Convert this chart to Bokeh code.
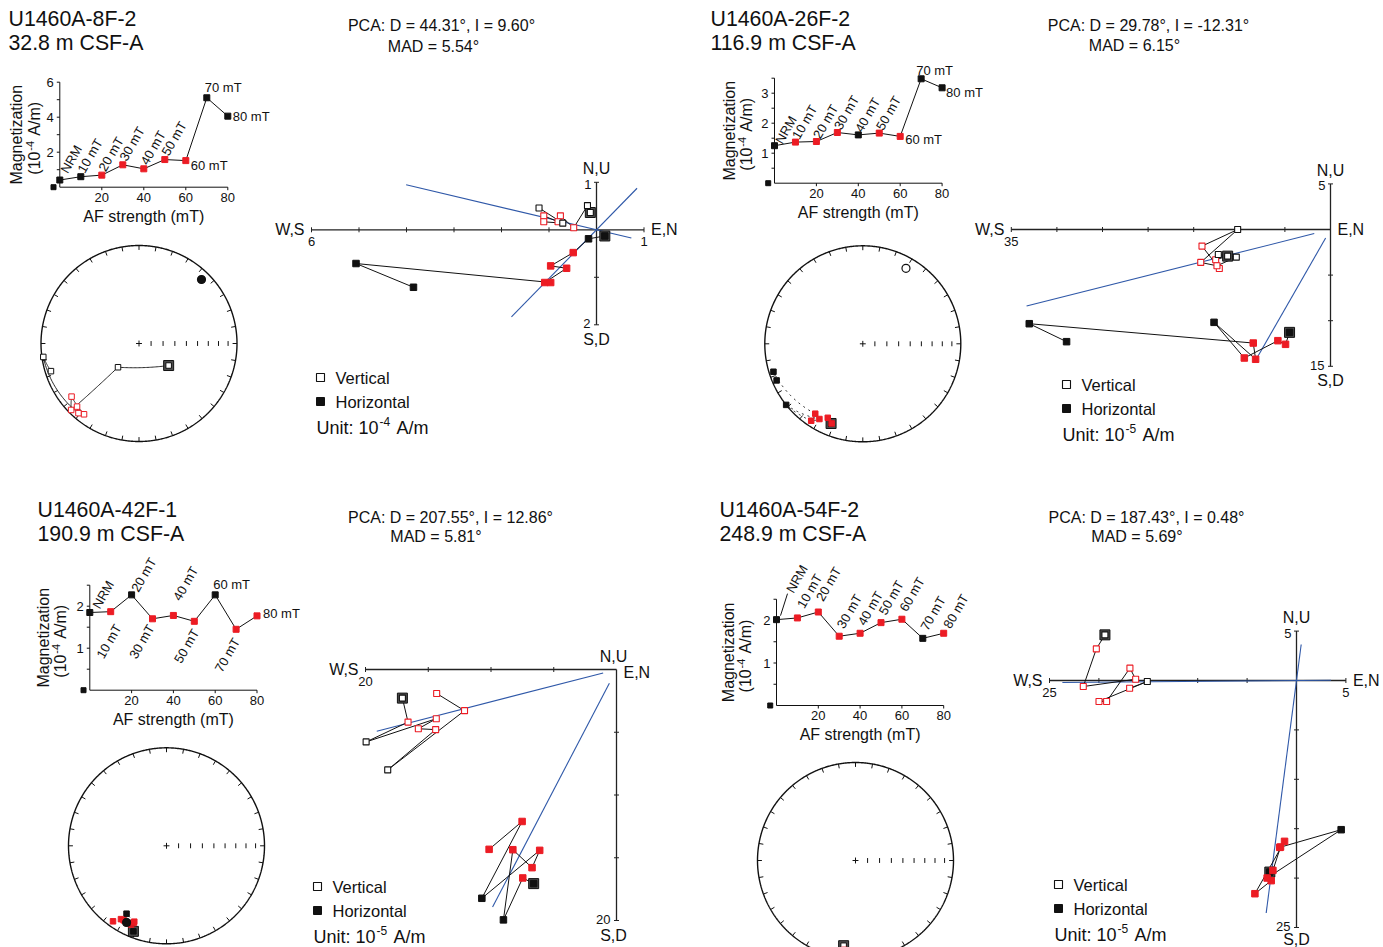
import numpy as np
from bokeh.plotting import figure
from bokeh.models import Range1d
from bokeh.core.properties import value
from bokeh.embed import file_html
from bokeh.resources import INLINE

W, H = 1383, 947
FONT = "Liberation Sans"
INK = "#111111"
RED = "#ec1c24"
BLUE = "#2f58a8"

# ---------------------------------------------------------------- data
steps = ["NRM", "10 mT", "20 mT", "30 mT", "40 mT", "50 mT", "60 mT", "70 mT", "80 mT"]
af_mt = [0, 10, 20, 30, 40, 50, 60, 70, 80]
af_corner_mark = -3.0  # small square drawn just left of each intensity plot origin

# U1460A-8F-2 (vector components in 1e-4 A/m)
name_8f = ["U1460A-8F-2", "32.8 m CSF-A"]
intensity_8f = [0.41, 0.60, 0.69, 1.28, 1.05, 1.58, 1.52, 5.11, 4.06]
east_8f = [0.175, -0.168, -0.49, -0.965, -0.629, -1.09, -0.965, -5.063, -3.853]
north_8f = [-0.13, -0.19, -0.48, -0.76, -0.81, -1.11, -1.11, -0.71, -1.21]
up_8f = [0.364, 0.51, 0.042, 0.294, 0.17, 0.294, 0.168, 0.14, 0.46]
in_fit_8f = [0, 0, 1, 1, 1, 1, 1, 0, 0]
pca_8f = [44.31, 9.60, 5.54]
pca_span_8f = [[-2.6, 1.24], [-5.68, 1.04]]
unit_exp_8f = "-4"

# U1460A-26F-2 (1e-5 A/m)
name_26f = ["U1460A-26F-2", "116.9 m CSF-A"]
intensity_26f = [1.25, 1.37, 1.39, 1.69, 1.61, 1.67, 1.56, 3.48, 3.18]
east_26f = [-4.49, -4.93, -5.77, -9.45, -12.77, -8.21, -8.47, -33.03, -28.94]
north_26f = [-11.28, -12.59, -12.19, -14.09, -10.18, -14.23, -12.45, -10.33, -12.3]
up_26f = [-2.92, -3.32, -4.27, -1.82, 0.0, -3.61, -3.98, -3.03, -2.74]
in_fit_26f = [0, 1, 1, 1, 0, 1, 1, 0, 0]
pca_26f = [29.78, -12.31, 6.15]
pca_span_26f = [[-16.4, -1.1], [-39.3, -2.1]]
unit_exp_26f = "-5"

# U1460A-42F-1 (1e-5 A/m)
name_42f = ["U1460A-42F-1", "190.9 m CSF-A"]
intensity_42f = [1.85, 1.87, 2.27, 1.70, 1.78, 1.64, 2.27, 1.45, 1.77]
east_42f = [-6.6, -7.47, -9.01, -8.26, -6.73, -6.12, -10.73, -7.52, -10.15]
north_42f = [-17.06, -16.61, -19.95, -14.36, -15.79, -14.41, -18.23, -12.11, -14.33]
up_42f = [-2.28, -4.19, -5.77, -3.92, -4.72, -4.79, -8.0, -3.28, -1.91]
in_fit_42f = [0, 1, 0, 1, 1, 1, 0, 1, 1]
pca_42f = [207.55, 12.86, 5.81]
pca_span_42f = [[1.26, 21.9], [1.23, 22.1]]
unit_exp_42f = "-5"

# U1460A-54F-2 (1e-5 A/m)
name_54f = ["U1460A-54F-2", "248.9 m CSF-A"]
intensity_54f = [2.02, 2.06, 2.20, 1.63, 1.70, 1.95, 2.03, 1.58, 1.70]
east_54f = [-2.7, -2.56, -4.21, -1.21, -1.62, -2.39, -2.97, 4.52, -1.7]
north_54f = [-19.39, -20.26, -21.58, -16.28, -16.86, -19.22, -19.99, -15.1, -16.89]
up_54f = [4.62, 3.2, -0.61, 0.13, 1.25, -2.12, -2.12, -0.1, -0.78]
in_fit_54f = [0, 1, 1, 1, 1, 1, 1, 0, 1]
pca_54f = [187.43, 0.48, 5.69]
pca_span_54f = [[-3.67, 23.73], [-3.53, 23.9]]
unit_exp_54f = "-5"

specimens = [
    dict(name=name_8f, mag=intensity_8f, e=east_8f, n=north_8f, u=up_8f,
         fit=in_fit_8f, pca=pca_8f, span=pca_span_8f, exp=unit_exp_8f),
    dict(name=name_26f, mag=intensity_26f, e=east_26f, n=north_26f, u=up_26f,
         fit=in_fit_26f, pca=pca_26f, span=pca_span_26f, exp=unit_exp_26f),
    dict(name=name_42f, mag=intensity_42f, e=east_42f, n=north_42f, u=up_42f,
         fit=in_fit_42f, pca=pca_42f, span=pca_span_42f, exp=unit_exp_42f),
    dict(name=name_54f, mag=intensity_54f, e=east_54f, n=north_54f, u=up_54f,
         fit=in_fit_54f, pca=pca_54f, span=pca_span_54f, exp=unit_exp_54f),
]

# ---------------------------------------------------------------- layout
UP, DOWN, FLAT = "up", "down", "flat"
layouts = [
    dict(title=(8, 18), pca=(441, 25), mad=(433, 46),
         mag=(59.3, 186.7, 2.1, 17.5), mag_y=(6, 1, [2, 4, 6]), mag_title=(43, 25),
         tags=[(UP, 4, -8)] + [(UP, 0, -5)] * 5 + [(FLAT, 5, 5), (FLAT, -2, -10), (FLAT, 5, 0)],
         net=(138.5, 343, 98), zij=(596, 229.3, 47.5), box=((-6, 1), (-2, 1), 1),
         legend=(320, 377)),
    dict(title=(710, 18), pca=(1148, 25), mad=(1134, 45),
         mag=(774, 182.7, 2.095, 30), mag_y=(3.5, 0.5, [1, 2, 3]), mag_title=(45, 28),
         tags=[(UP, 4, -3)] + [(UP, 0, -4)] * 5 + [(FLAT, 5, 3), (FLAT, -5, -8), (FLAT, 4, 5)],
         net=(862.3, 343.3, 98), zij=(1330, 229, 9.12), box=((-35, 0), (-15, 5), 5),
         legend=(1066, 384)),
    dict(title=(37, 509), pca=(450, 517), mad=(435.5, 536),
         mag=(89.3, 689.7, 2.09, 42), mag_y=(2.5, 0.5, [1, 2]), mag_title=(46, 29),
         tags=[(UP, 6, -5), (DOWN, 1, 10), (UP, 3, -4), (DOWN, -8, 3), (UP, 3, -16),
               (DOWN, -5, 5), (FLAT, -2, -10), (DOWN, -6, 6), (FLAT, 6, -2)],
         net=(166, 845.3, 98), zij=(616, 669, 12.55), box=((-20, 0), (-20, 0), 5),
         legend=(317, 886), nu_dx=-3, en_dy=3),
    dict(title=(719, 509), pca=(1146, 517), mad=(1136.5, 536),
         mag=(776, 705, 2.09, 42.5), mag_y=(2.5, 0.5, [1, 2]), mag_title=(48, 31),
         tags=[(UP, 13, -28), (UP, 3, -11), (UP, 1, -12)] + [(UP, 1, -9)] * 5 + [(UP, 3, -6)],
         leader=((4, -4), (11, -26)),
         net=(855, 860, 98), zij=(1296, 680, 9.88), box=((-25, 5), (-25, 5), 5),
         legend=(1058, 884), sd_dy=-3),
]

# Each sub-plot gets its own pair of linear ranges spanning the whole canvas,
# so that data (0, 0) lands at pixel (ox, oy) with sx / sy pixels per unit.
FR = {"page": (0.0, 0.0, 1.0, -1.0)}
for i, lay in enumerate(layouts):
    ox, oy, sx, sy = lay["mag"]
    FR[f"mag{i}"] = (ox, oy, sx, sy)
    ox, oy, r = lay["net"]
    FR[f"net{i}"] = (ox, oy, r, r)
    ox, oy, s = lay["zij"]
    FR[f"zij{i}"] = (ox, oy, s, s)

xr = {k: Range1d(-ox / sx, (W - ox) / sx) for k, (ox, oy, sx, sy) in FR.items() if k != "page"}
yr = {k: Range1d(-(H - oy) / sy, oy / sy) for k, (ox, oy, sx, sy) in FR.items() if k != "page"}

p = figure(width=W, height=H, x_range=Range1d(0, W), y_range=Range1d(H, 0),
           extra_x_ranges=xr, extra_y_ranges=yr,
           x_axis_type=None, y_axis_type=None, toolbar_location=None,
           output_backend="svg", min_border=0, outline_line_color=None,
           background_fill_color="white", border_fill_color="white")


def on(f):
    return {} if f == "page" else dict(x_range_name=f, y_range_name=f)


def shift(f, x, y, dx, dy):
    ox, oy, sx, sy = FR[f]
    return x + dx / sx, y - dy / sy


def label(f, x, y, s, size, align="left", baseline="middle", angle=0.0, color=INK):
    p.text(x=[x], y=[y], text=[s], text_font=value(FONT), text_font_size=f"{size}px",
           text_align=align, text_baseline=baseline, angle=angle, text_color=color, **on(f))


def line(f, xs, ys, color=INK, width=1.0, dash="solid"):
    p.line(list(xs), list(ys), line_color=color, line_width=width, line_dash=dash, **on(f))


def segs(f, x0, y0, x1, y1, color=INK, width=1.0):
    p.segment(x0=list(x0), y0=list(y0), x1=list(x1), y1=list(y1),
              line_color=color, line_width=width, **on(f))


def eqarea(v):
    inc = np.arcsin(np.clip(v[..., 2], -1, 1))
    dec = np.arctan2(v[..., 1], v[..., 0])
    r = np.sqrt(2) * np.sin((np.pi / 2 - np.abs(inc)) / 2)
    return r * np.sin(dec), r * np.cos(dec), inc


def draw(i, sp, lay):
    cols = [RED if k else INK for k in sp["fit"]]
    D, I, mad = sp["pca"]

    # headings
    tx, ty = lay["title"]
    label("page", tx, ty, sp["name"][0], 21.3)
    label("page", tx, ty + 24, sp["name"][1], 21.3)
    label("page", *lay["pca"], f"PCA: D = {D:.2f}°, I = {I:.2f}°", 16, align="center")
    label("page", *lay["mad"], f"MAD = {mad:.2f}°", 16, align="center")

    # ---------------- intensity decay
    f = f"mag{i}"
    ox, oy, sx, sy = FR[f]
    ytop, ystep, ylabs = lay["mag_y"]
    line(f, [0, 0], [0, ytop])
    line(f, [0, 80], [0, 0])
    yt = np.arange(ystep, ytop + 1e-9, ystep)
    segs(f, [0] * len(yt), yt, [-3 / sx] * len(yt), yt)
    xt = [20, 40, 60, 80]
    segs(f, xt, [0] * 4, xt, [-3 / sy] * 4)
    for v in ylabs:
        label(f, -6 / sx, v, f"{v:g}", 13, align="right")
    for v in xt:
        label(f, v, -10 / sy, str(v), 13, align="center")
    label(f, 40, -29 / sy, "AF strength (mT)", 16, align="center")
    a, b = lay["mag_title"]
    label(f, -a / sx, ytop / 2, "Magnetization", 16, align="center", angle=np.pi / 2)
    # "(10^-4 A/m)" set bottom-to-top with a raised exponent
    yb = ytop / 2 - 40 / sy
    label(f, -b / sx, yb, "(10", 16, angle=np.pi / 2)
    label(f, -(b + 5) / sx, yb + 24 / sy, "-4", 11, angle=np.pi / 2)
    label(f, -b / sx, yb + 39 / sy, "A/m)", 16, angle=np.pi / 2)
    p.scatter([af_corner_mark], [0], marker="square", size=5, fill_color=INK, line_color=INK, **on(f))

    line(f, af_mt, sp["mag"])
    p.scatter(af_mt, sp["mag"], marker="square", size=6, fill_color=cols, line_color=cols, **on(f))
    for lvl, val, s, (kind, dx, dy) in zip(af_mt, sp["mag"], steps, lay["tags"]):
        x, y = shift(f, lvl, val, dx, dy)
        if kind == UP:
            label(f, x, y, s, 13, baseline="alphabetic", angle=np.pi / 3)
        elif kind == DOWN:
            label(f, x, y, s, 13, align="right", baseline="top", angle=np.pi / 3)
        else:
            label(f, x, y, s, 13)
    if "leader" in lay:
        (ax_, ay_), (bx_, by_) = lay["leader"]
        x0, y0 = shift(f, af_mt[0], sp["mag"][0], ax_, ay_)
        x1, y1 = shift(f, af_mt[0], sp["mag"][0], bx_, by_)
        line(f, [x0, x1], [y0, y1])

    # ---------------- equal-area stereonet
    g = f"net{i}"
    th = np.linspace(0, 2 * np.pi, 721)
    line(g, np.cos(th), np.sin(th), width=1.4)
    az = np.radians(np.arange(0, 360, 10))
    segs(g, np.sin(az), np.cos(az), 0.955 * np.sin(az), 0.955 * np.cos(az))
    segs(g, [-0.03, 0], [0, -0.03], [0.03, 0], [0, 0.03])
    ring = np.sqrt(2) * np.sin(np.radians(90 - np.arange(80, 0, -10)) / 2)
    segs(g, ring, [-0.025] * len(ring), ring, [0.025] * len(ring))

    vec = np.column_stack([sp["n"], sp["e"], -np.asarray(sp["u"], float)])
    vec = vec / np.linalg.norm(vec, axis=1)[:, None]
    t = np.linspace(0, 1, 40)
    for a_, b_ in zip(vec[:-1], vec[1:]):
        om = np.arccos(np.clip(a_ @ b_, -1, 1))
        if om < 1e-6:
            continue
        pts = (np.sin((1 - t) * om)[:, None] * a_ + np.sin(t * om)[:, None] * b_) / np.sin(om)
        gx, gy, ginc = eqarea(pts)
        line(g, gx, gy, width=0.9, dash="solid" if ginc.mean() < 0 else "dotted")
    nx, ny, ninc = eqarea(vec)
    p.scatter([nx[0]], [ny[0]], marker="square", size=10, fill_color="#4d4d4d", line_color=INK, **on(g))
    fills = [c if inc >= 0 else "white" for c, inc in zip(cols, ninc)]
    p.scatter(nx, ny, marker="square", size=5.5, fill_color=fills, line_color=cols, line_width=1, **on(g))
    dvec = np.array([np.cos(np.radians(I)) * np.cos(np.radians(D)),
                     np.cos(np.radians(I)) * np.sin(np.radians(D)),
                     np.sin(np.radians(I))])
    mx, my, _ = eqarea(dvec)
    p.scatter([mx], [my], marker="circle", size=8, line_color=INK, line_width=1.2,
              fill_color=INK if I >= 0 else "white", **on(g))

    # ---------------- orthogonal vector plot
    z = f"zij{i}"
    ox, oy, s, _ = FR[z]
    (x0, x1), (y0, y1), step = lay["box"]
    line(z, [x0, x1], [0, 0], color="#222222", width=1.3)
    line(z, [0, 0], [y0, y1], color="#222222", width=1.3)
    tk = 2.5 / s
    xs_ = [v for v in np.arange(x0, x1 + 1e-9, step) if abs(v) > 1e-9]
    ys_ = [v for v in np.arange(y0, y1 + 1e-9, step) if abs(v) > 1e-9]
    segs(z, xs_, [-tk] * len(xs_), xs_, [tk] * len(xs_), color="#222222")
    segs(z, [-tk] * len(ys_), ys_, [tk] * len(ys_), ys_, color="#222222")
    px = 1.0 / s
    label(z, x0 - 7 * px, 0, "W,S", 16, align="right")
    label(z, x0, -7 * px, f"{abs(x0):g}", 13, align="center", baseline="top")
    label(z, x1 + 7 * px, -lay.get("en_dy", 0) * px, "E,N", 16)
    if x1 > 0:
        label(z, x1, -7 * px, f"{x1:g}", 13, align="center", baseline="top")
    label(z, lay.get("nu_dx", 0) * px, y1 + 5 * px, "N,U", 16, align="center", baseline="bottom")
    if y1 > 0:
        label(z, -5 * px, y1 - 2 * px, f"{y1:g}", 13, align="right")
    label(z, -6 * px, y0 + 1 * px, f"{abs(y0):g}", 13, align="right")
    label(z, lay.get("nu_dx", 0) * px, y0 - (6 + lay.get("sd_dy", 0)) * px, "S,D", 16,
          align="center", baseline="top")

    dn = np.cos(np.radians(I)) * np.cos(np.radians(D))
    de = np.cos(np.radians(I)) * np.sin(np.radians(D))
    dd = np.sin(np.radians(I))
    th_, tv_ = sp["span"]
    line(z, [de * v for v in th_], [dn * v for v in th_], color=BLUE, width=1.1)
    line(z, [dn * v for v in tv_], [-dd * v for v in tv_], color=BLUE, width=1.1)

    # vertical projection (N, Up) as open squares
    line(z, sp["n"], sp["u"], width=1)
    p.scatter([sp["n"][0]], [sp["u"][0]], marker="square", size=10, fill_color="#4d4d4d", line_color=INK, **on(z))
    p.scatter(sp["n"], sp["u"], marker="square", size=6, fill_color="white", line_color=cols,
              line_width=1.1, **on(z))
    # horizontal projection (E, N) as filled squares
    line(z, sp["e"], sp["n"], width=1)
    p.scatter([sp["e"][0]], [sp["n"][0]], marker="square", size=10, fill_color="#4d4d4d", line_color=INK, **on(z))
    p.scatter(sp["e"], sp["n"], marker="square", size=6.5, fill_color=cols, line_color=cols, **on(z))

    # key
    lx, ly = lay["legend"]
    p.scatter([lx], [ly], marker="square", size=8, fill_color="white", line_color=INK, line_width=1.1)
    p.scatter([lx], [ly + 24], marker="square", size=8, fill_color=INK, line_color=INK)
    label("page", lx + 15, ly, "Vertical", 16.5)
    label("page", lx + 15, ly + 24, "Horizontal", 16.5)
    label("page", lx - 4, ly + 50, "Unit: 10", 18)
    label("page", lx + 59, ly + 44, sp["exp"], 12)
    label("page", lx + 76, ly + 50, "A/m", 18)


for i, (sp, lay) in enumerate(zip(specimens, layouts)):
    draw(i, sp, lay)

open("out.html", "w").write(file_html(p, INLINE))
